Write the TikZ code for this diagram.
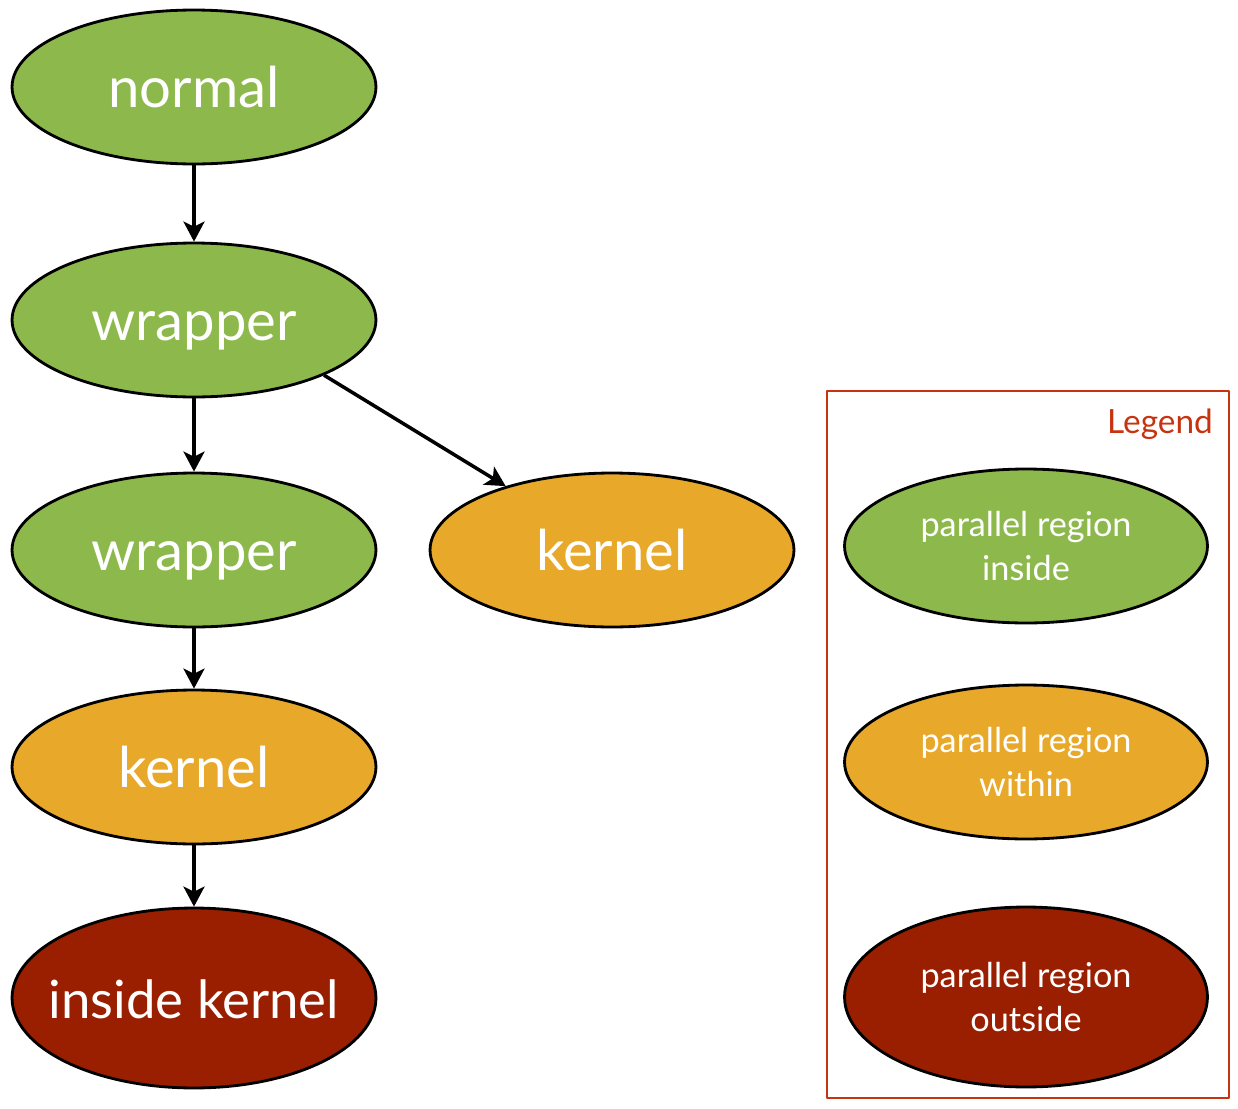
\documentclass[tikz,border=0pt]{standalone}
\usepackage{fontspec}
\setmainfont{Lato}
\usetikzlibrary{shapes.geometric,arrows.meta}
\definecolor{leafgreen}{RGB}{141,185,76}
\definecolor{kernorange}{RGB}{232,168,41}
\definecolor{deepred}{RGB}{154,31,0}
\definecolor{legendred}{RGB}{200,51,15}
\tikzset{
	region/.style={ellipse, draw=black, line width=1.6pt, text=white,
		minimum width=7.28cm, minimum height=3.08cm, inner ysep=0pt, inner xsep=-1.2cm,
		text height=23pt, text depth=0pt, font=\fontsize{32}{34}\selectfont},
	keyregion/.style={ellipse, draw=black, line width=1.6pt, text=white, align=center,
		minimum width=7.26cm, minimum height=3.08cm, inner sep=0pt,
		font=\fontsize{19.5}{24.5}\selectfont},
	flow/.style={->, line width=2pt}
}
\begin{document}
\begin{tikzpicture}[x=0.02cm, y=-0.02cm, >={Stealth[length=0.4cm, width=0.42cm, inset=0.1cm]}, line join=round]
	\useasboundingbox (0,0) rectangle (1238,1109);
	% call chain
	\node[region, fill=leafgreen] (normal) at (194,87) {normal};
	\node[region, fill=leafgreen] (wrapperA) at (194,320) {wrapper};
	\node[region, fill=leafgreen] (wrapperB) at (194,550) {wrapper};
	\node[region, fill=kernorange] (kernelB) at (612,550) {kernel};
	\node[region, fill=kernorange] (kernelA) at (194,767) {kernel};
	\node[region, fill=deepred, minimum height=3.6cm, font=\fontsize{30}{32}\selectfont] (inside) at (194,998) {inside kernel};
	\draw[flow] (normal) -- (wrapperA);
	\draw[flow] (wrapperA) -- (wrapperB);
	\draw[flow] (wrapperA.-23) -- (kernelB.149);
	\draw[flow] (wrapperB) -- (kernelA);
	\draw[flow] (kernelA) -- (inside);
	% legend
	\draw[legendred, line width=1.4pt] (827,391) rectangle (1229,1098);
	\node[anchor=east, text=legendred, font=\fontsize{19}{20}\selectfont] (legend) at (1219,424) {Legend};
	\node[keyregion, fill=leafgreen] (keyin) at (1026,546) {parallel region\\inside};
	\node[keyregion, fill=kernorange] (keywithin) at (1026,762) {parallel region\\within};
	\node[keyregion, fill=deepred, minimum height=3.6cm] (keyout) at (1026,997) {parallel region\\outside};
\end{tikzpicture}
\end{document}
